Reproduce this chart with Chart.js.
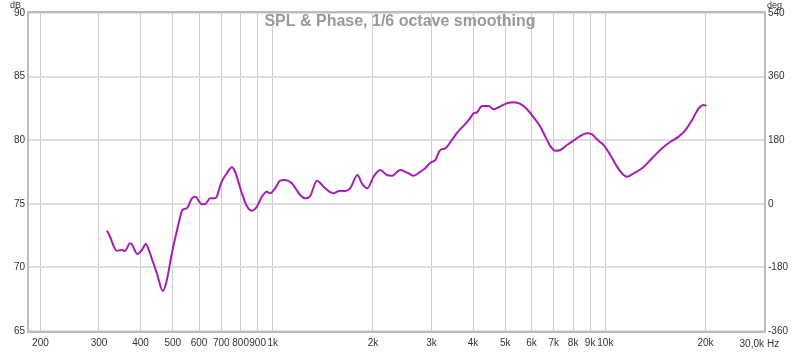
<!DOCTYPE html>
<html>
<head>
<meta charset="utf-8">
<script src="https://cdn.jsdelivr.net/npm/chart.js@4/dist/chart.umd.min.js"></script>
<style>
  html, body { margin: 0; padding: 0; background: #fff; }
  canvas { display: block; }
</style>
</head>
<body>
<canvas id="splChart" width="800" height="352"></canvas>
<script>
// measured SPL curve, 1/6 octave smoothed (Hz / dB)
const freqs = [317, 324, 331, 339, 351, 359, 372, 378, 391, 404, 415, 422, 434, 448, 467, 480,
    497, 518, 535, 551, 571, 584, 612, 626, 648, 671, 702, 727, 753, 770, 807, 835, 865, 895,
    927, 959, 982, 1016, 1052, 1089, 1141, 1208, 1251, 1295, 1357, 1437, 1522, 1594, 1651,
    1708, 1797, 1852, 1926, 2008, 2103, 2203, 2281, 2416, 2559, 2650, 2775, 2873, 2975, 3080,
    3188, 3300, 3457, 3579, 3790, 3905, 4015, 4110, 4256, 4455, 4613, 4775, 5060, 5297, 5549,
    5812, 6085, 6374, 6599, 6832, 7072, 7321, 7668, 8124, 8509, 8810, 9120, 9330, 9612, 9883,
    10351, 10844, 11354, 11624, 12168, 12895, 13819, 14810, 15686, 16614, 17405, 18232, 19087,
    19758, 20130];
const spl = [72.89, 72.41, 71.76, 71.31, 71.37, 71.29, 71.89, 71.76, 71.05, 71.37, 71.84, 71.5,
    70.58, 69.54, 68.14, 69.01, 71.11, 73.2, 74.51, 74.65, 75.43, 75.56, 74.96, 74.98, 75.43,
    75.43, 76.74, 77.4, 77.87, 77.52, 75.83, 74.83, 74.46, 74.77, 75.56, 75.95, 75.83, 76.22,
    76.82, 76.87, 76.61, 75.69, 75.43, 75.61, 76.82, 76.22, 75.83, 76.03, 76.0, 76.22, 77.26,
    76.61, 76.22, 77.13, 77.66, 77.26, 77.21, 77.66, 77.4, 77.21, 77.52, 77.79, 78.23, 78.44,
    79.23, 79.36, 80.02, 80.57, 81.27, 81.67, 82.11, 82.19, 82.69, 82.69, 82.43, 82.59, 82.9,
    82.98, 82.85, 82.43, 81.8, 81.06, 80.28, 79.54, 79.17, 79.23, 79.62, 80.07, 80.41, 80.54,
    80.46, 80.2, 79.88, 79.62, 78.84, 77.92, 77.26, 77.13, 77.4, 77.79, 78.58, 79.36, 79.88,
    80.28, 80.8, 81.59, 82.51, 82.77, 82.71];

// axis ticks
const xTicks = [200, 300, 400, 500, 600, 700, 800, 900, 1000, 2000, 3000, 4000, 5000, 6000,
    7000, 8000, 9000, 10000, 20000, 30000];
const dbTicks = [65, 70, 75, 80, 85, 90];
const degTicks = [-360, -180, 0, 180, 360, 540];

const titleText = 'SPL & Phase, 1/6 octave smoothing';
const labelFont = '10px "Liberation Sans", Arial, sans-serif';

function freqLabel(v) {
    if (v === 30000) return '';
    return v >= 1000 ? (v / 1000) + 'k' : String(v);
}

// frame, title and unit labels
const rewDecor = {
    id: 'rewDecor',
    afterDraw(chart) {
        const ctx = chart.ctx;
        const a = chart.chartArea;
        ctx.save();
        ctx.strokeStyle = '#bdbdbd';
        ctx.lineWidth = 2;
        ctx.strokeRect(a.left - 1, a.top - 1, a.right - a.left + 2, a.bottom - a.top + 2);

        ctx.fillStyle = '#999';
        ctx.font = 'bold 16px "Liberation Sans", Arial, sans-serif';
        ctx.textAlign = 'center';
        ctx.textBaseline = 'alphabetic';
        ctx.fillText(titleText, 400, 26);

        ctx.fillStyle = '#333';
        ctx.font = '9px "Liberation Sans", Arial, sans-serif';
        ctx.textAlign = 'left';
        ctx.fillText('dB', 10, 8);
        ctx.fillText('deg', 767, 8);

        const xs = chart.scales.x;
        ctx.font = labelFont;
        ctx.textAlign = 'right';
        ctx.fillText('30,0k', xs.getPixelForValue(30000), 347);
        ctx.textAlign = 'left';
        ctx.fillText('Hz', xs.getPixelForValue(30000) + 3, 347);
        ctx.restore();
    }
};

new Chart(document.getElementById('splChart'), {
    type: 'line',
    data: {
        datasets: [{
            label: 'SPL',
            data: freqs.map((f, i) => ({ x: f, y: spl[i] })),
            borderColor: '#a51db4',
            borderWidth: 2,
            pointRadius: 0,
            tension: 0.4,
            cubicInterpolationMode: 'monotone',
            yAxisID: 'y'
        }]
    },
    options: {
        responsive: false,
        animation: false,
        devicePixelRatio: 1,
        layout: { padding: { top: 13, left: 0, right: 0, bottom: 0 } },
        plugins: {
            legend: { display: false },
            tooltip: { enabled: false }
        },
        scales: {
            x: {
                type: 'logarithmic',
                min: 184.8,
                max: 30000,
                afterBuildTicks: s => { s.ticks = xTicks.map(v => ({ value: v })); },
                afterFit: s => { s.height = 21; },
                grid: { color: '#cfcfcf', lineWidth: 1, drawTicks: false },
                border: { display: false },
                ticks: {
                    callback: v => freqLabel(v),
                    autoSkip: false,
                    maxRotation: 0,
                    padding: 6,
                    color: '#333',
                    font: { family: '"Liberation Sans", Arial, sans-serif', size: 10 }
                }
            },
            y: {
                position: 'left',
                min: 65,
                max: 90,
                afterBuildTicks: s => { s.ticks = dbTicks.map(v => ({ value: v })); },
                afterFit: s => { s.width = 29; },
                grid: { color: '#dedede', lineWidth: 2, drawTicks: false },
                border: { display: false },
                ticks: {
                    padding: 4,
                    color: '#333',
                    font: { family: '"Liberation Sans", Arial, sans-serif', size: 10 }
                }
            },
            y2: {
                position: 'right',
                min: -360,
                max: 540,
                afterBuildTicks: s => { s.ticks = degTicks.map(v => ({ value: v })); },
                afterFit: s => { s.width = 36; },
                grid: { drawOnChartArea: false, drawTicks: false },
                border: { display: false },
                ticks: {
                    padding: 4,
                    color: '#333',
                    font: { family: '"Liberation Sans", Arial, sans-serif', size: 10 }
                }
            }
        }
    },
    plugins: [rewDecor]
});
</script>
</body>
</html>
